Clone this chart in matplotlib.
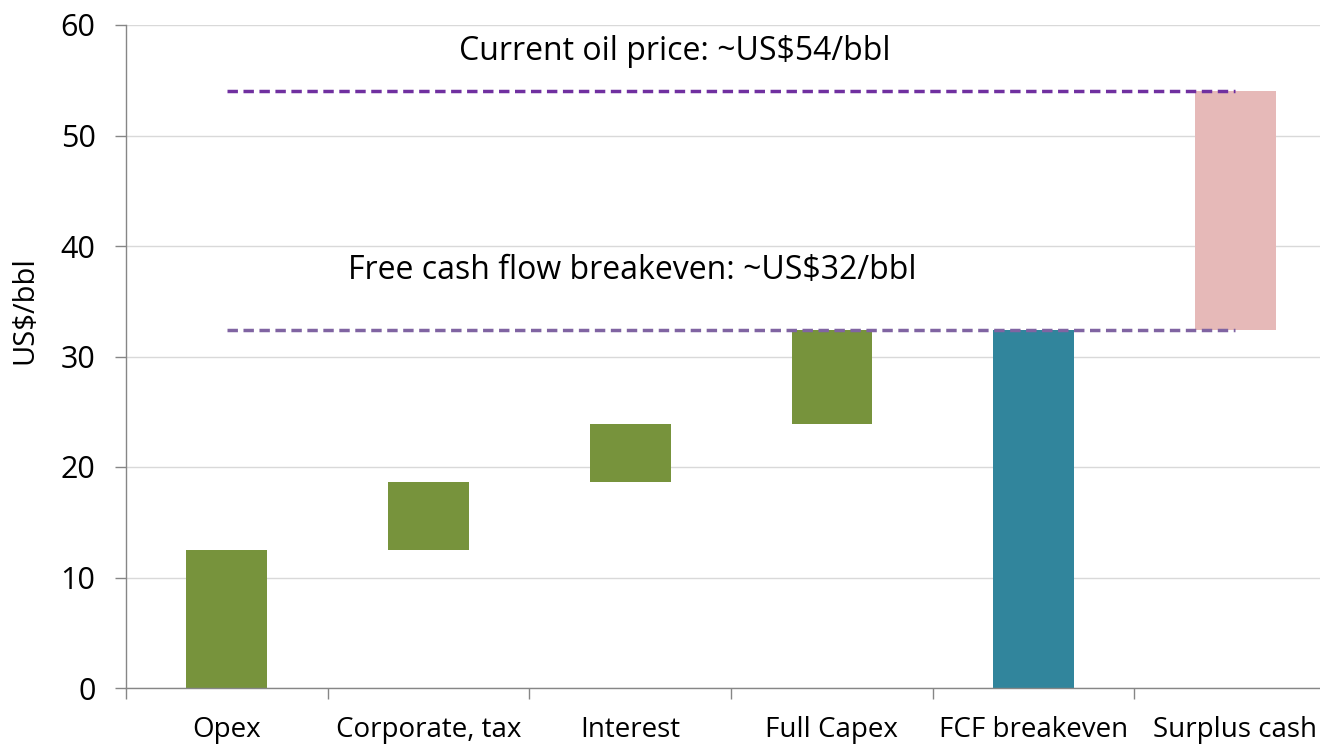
import matplotlib
matplotlib.use("Agg")
import matplotlib.pyplot as plt

categories = ["Opex", "Corporate, tax", "Interest", "Full Capex", "FCF breakeven", "Surplus cash"]
bottoms = [0, 12.5, 18.6, 23.9, 0, 32.4]
tops = [12.5, 18.6, 23.9, 32.4, 32.4, 54.0]
colors = ["#77933C", "#77933C", "#77933C", "#77933C", "#31859C", "#E6B9B8"]
oil_price = 54.0
breakeven = 32.4
yticks = [0, 10, 20, 30, 40, 50, 60]

plt.rcParams['font.family'] = ['Open Sans', 'DejaVu Sans']
fig = plt.figure(figsize=(13.2, 7.44), dpi=100)
ax = fig.add_axes([126/1320, 56/744, (1336-126)/1320, (688-25)/744])

x = list(range(len(categories)))
heights = [t - b for t, b in zip(tops, bottoms)]
ax.bar(x, heights, bottom=bottoms, width=0.4, color=colors, zorder=2)

ax.plot([0, 5], [oil_price, oil_price], color="#7030A0", lw=2.5, ls=(0, (3, 1.6)), zorder=3)
ax.plot([0, 5], [breakeven, breakeven], color="#8064A2", lw=2.5, ls=(0, (3, 1.6)), zorder=3)

ax.text(2.22, 57.6, "Current oil price: ~US$54/bbl", ha="center", va="center", fontsize=23)
ax.text(2.01, 37.8, "Free cash flow breakeven: ~US$32/bbl", ha="center", va="center", fontsize=23)

ax.set_xlim(-0.5, 5.5)
ax.set_ylim(0, 60)
ax.set_yticks(yticks)
ax.set_yticklabels([str(v) for v in yticks], fontsize=22)
ax.set_xticks(x)
ax.set_xticklabels(categories, fontsize=20)
ax.set_xticks([i + 0.5 for i in range(-1, 6)], minor=True)
ax.tick_params(axis='x', which='major', length=0, pad=20)
ax.tick_params(axis='x', which='minor', length=8, color="#868686", width=1)
ax.tick_params(axis='y', length=8, color="#868686", width=1, pad=14)
ax.grid(axis='y', color="#D9D9D9", lw=1, zorder=0)
ax.set_axisbelow(True)
for s in ["top", "right"]:
    ax.spines[s].set_visible(False)
for s in ["left", "bottom"]:
    ax.spines[s].set_color("#868686")
    ax.spines[s].set_linewidth(1)
ax.set_ylabel("US$/bbl", fontsize=21, va="center")
ax.yaxis.set_label_coords(-(126 - 25) / (1336 - 126), (688 - 310) / (688 - 25))

fig.savefig("out.png", dpi=100)
